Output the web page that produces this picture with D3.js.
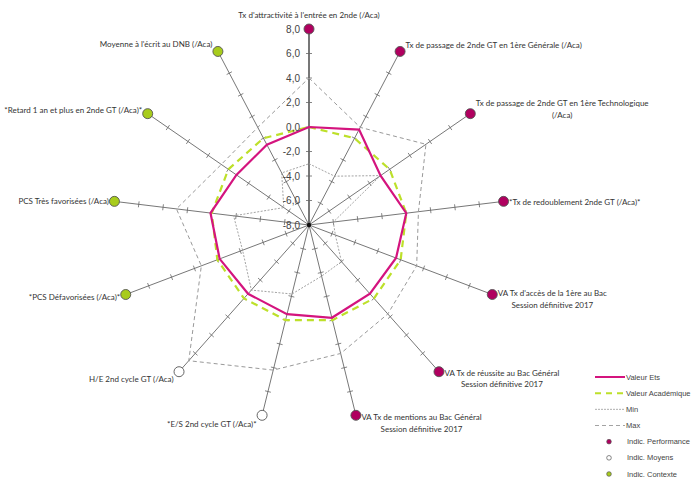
<!DOCTYPE html>
<html>
  <head>
    <meta charset='utf-8'>
    <title></title>
    <script src='https://d3js.org/d3.v7.min.js'></script>
    <style>
      body { margin: 0; background: #fff; }
      svg { display: block; }
      .lbl { font-family: Lato, 'Liberation Sans', sans-serif; font-size: 8px; fill: #333; }
      .tick-lbl { font-family: 'Liberation Sans', Arial, sans-serif; font-size: 10px; fill: #444; }
      .leg { font-family: 'Liberation Sans', Arial, sans-serif; font-size: 7.5px; fill: #444; }
    </style>
  </head>
  <body>
  <script type='text/javascript'>

    // axes, clockwise from the top
    var axisLabels = [
      ["Tx d'attractivité à l'entrée en 2nde (/Aca)"],
      ["Tx de passage de 2nde GT en 1ère Générale (/Aca)"],
      ["Tx de passage de 2nde GT en 1ère Technologique", "(/Aca)"],
      ["*Tx de redoublement 2nde GT (/Aca)*"],
      ["VA Tx d'accès de la 1ère au Bac", "Session définitive 2017"],
      ["VA Tx de réussite au Bac Général", "Session définitive 2017"],
      ["VA Tx de mentions au Bac Général", "Session définitive 2017"],
      ["*E/S 2nd cycle GT (/Aca)*"],
      ["H/E 2nd cycle GT (/Aca)"],
      ["*PCS Défavorisées (/Aca)*"],
      ["PCS Très favorisées (/Aca)"],
      ["*Retard 1 an et plus en 2nde GT (/Aca)*"],
      ["Moyenne à l'écrit au DNB (/Aca)"]
    ];
    var axisGroups = ['perf', 'perf', 'perf', 'perf', 'perf', 'perf', 'perf',
                      'moyens', 'moyens', 'contexte', 'contexte', 'contexte', 'contexte'];

    var valEts = [0.0, 0.8, -0.9, 0.0, -0.4, -0.5, -0.2, -0.5, -0.5, -0.2, 0.1, -0.8, -0.6];
    var valAca = [0, 0, 0, 0, 0, 0, 0, 0, 0, 0, 0, 0, 0];
    var valMin = [-3.0, -3.5, -0.9, -6.0, -5.7, -4.0, -3.7, -2.2, -0.9, -2.2, -1.8, -5.5, -3.2];
    var valMax = [4.0, 1.0, 3.6, 1.0, 1.4, 1.7, 2.8, 4.2, 6.8, 1.4, 2.9, 0.7, 1.0];

    var tickValues = [-8, -6, -4, -2, 0, 2, 4, 6, 8];

    var legendItems = ['Valeur Ets', 'Valeur Académique', 'Min', 'Max',
                       'Indic. Performance', 'Indic. Moyens', 'Indic. Contexte'];

    // layout
    var width = 697;
    var height = 481;
    var cx = 309, cy = 225;
    var labelDy = [0, -6, -10, 1, -1, 1, 2, 9, 7, 3, 0, -3, -7];

    var groupFill = { perf: '#b0005f', moyens: '#ffffff', contexte: '#a8cc1c' };

    var r = d3.scaleLinear().domain([-8, 8]).range([0, 196]);
    var n = axisLabels.length;
    var angle = function(i) { return i * 2 * Math.PI / n; };
    var px = function(i, v) { return Math.sin(angle(i)) * r(v); };
    var py = function(i, v) { return -Math.cos(angle(i)) * r(v); };

    var fmt = d3.formatLocale({decimal: ',', thousands: ' ', grouping: [3], currency: ['', '€'], minus: '-'}).format('.1f');

    var svg = d3.select('body')
              .append('svg')
              .attr('width', width)
              .attr('height', height);

    var g = svg.append('g')
              .attr('transform', 'translate(' + cx + ',' + cy + ')');

    // axis lines
    var axesG = g.selectAll('.ax')
      .data(d3.range(n))
      .enter().append('g')
      .attr('class', 'ax');

    axesG.append('line')
      .attr('x1', 0).attr('y1', 0)
      .attr('x2', function(i) { return px(i, 8); })
      .attr('y2', function(i) { return py(i, 8); })
      .attr('stroke', function(i) { return i === 0 ? '#555' : '#777'; })
      .attr('stroke-width', function(i) { return i === 0 ? 1.6 : 1; });

    // small ticks on each axis
    axesG.each(function(i) {
      var a = angle(i);
      var ux = Math.cos(a), uy = Math.sin(a);
      d3.select(this).selectAll('.tk')
        .data(tickValues.slice(1, -1))
        .enter().append('line')
        .attr('x1', function(v) { return px(i, v) - ux * 3; })
        .attr('y1', function(v) { return py(i, v) - uy * 3; })
        .attr('x2', function(v) { return px(i, v) + ux * 3; })
        .attr('y2', function(v) { return py(i, v) + uy * 3; })
        .attr('stroke', '#666')
        .attr('stroke-width', 0.8);
    });

    var radar = d3.line()
      .x(function(d) { return px(d[0], d[1]); })
      .y(function(d) { return py(d[0], d[1]); })
      .curve(d3.curveLinearClosed);

    var toPts = function(arr) { return arr.map(function(v, i) { return [i, v]; }); };

    g.append('path')
      .attr('d', radar(toPts(valMin)))
      .attr('fill', 'none')
      .attr('stroke', '#999')
      .attr('stroke-width', 0.9)
      .attr('stroke-dasharray', '2,1.5');

    g.append('path')
      .attr('d', radar(toPts(valMax)))
      .attr('fill', 'none')
      .attr('stroke', '#999')
      .attr('stroke-width', 1)
      .attr('stroke-dasharray', '4,3');

    g.append('path')
      .attr('d', radar(toPts(valAca)))
      .attr('fill', 'none')
      .attr('stroke', '#bde02a')
      .attr('stroke-width', 2.2)
      .attr('stroke-dasharray', '7,5');

    g.append('path')
      .attr('d', radar(toPts(valEts)))
      .attr('fill', 'none')
      .attr('stroke', '#d4147e')
      .attr('stroke-width', 2.2);

    // value labels along the top axis
    g.selectAll('.tick-lbl')
      .data(tickValues)
      .enter().append('text')
      .attr('class', 'tick-lbl')
      .attr('x', -9)
      .attr('y', function(v) { return -r(v); })
      .attr('dy', '0.36em')
      .attr('text-anchor', 'end')
      .text(function(v) { return fmt(v); });

    g.append('circle').attr('r', 2.2).attr('fill', '#111');

    // end markers
    g.selectAll('.mk')
      .data(d3.range(n))
      .enter().append('circle')
      .attr('cx', function(i) { return px(i, 8); })
      .attr('cy', function(i) { return py(i, 8); })
      .attr('r', 5)
      .attr('fill', function(i) { return groupFill[axisGroups[i]]; })
      .attr('stroke', '#555')
      .attr('stroke-width', 0.9);

    // axis labels
    d3.range(n).forEach(function(i) {
      var s = Math.sin(angle(i));
      var x = px(i, 8), y = py(i, 8) + labelDy[i];
      var lines = axisLabels[i];
      var t = g.append('text').attr('class', 'lbl');
      if (Math.abs(s) < 0.1) {
        t.attr('x', x).attr('y', y - 14).attr('dy', '0.35em').attr('text-anchor', 'middle').text(lines[0]);
        return;
      }
      var anchor = s > 0 ? 'start' : 'end';
      var x0 = s > 0 ? x + 5.5 : x - 5.5;
      t.attr('x', x0).attr('y', y).attr('dy', '0.35em').attr('text-anchor', anchor).text(lines[0]);
      if (lines.length > 1) {
        var w = t.node().getComputedTextLength();
        var mid = s > 0 ? x0 + w / 2 : x0 - w / 2;
        g.append('text').attr('class', 'lbl')
          .attr('x', mid).attr('y', y + 11.5).attr('dy', '0.35em')
          .attr('text-anchor', 'middle').text(lines[1]);
      }
    });

    // legend
    var leg = svg.append('g').attr('transform', 'translate(595,377)');
    var rowY = d3.scalePoint().domain(legendItems).range([0, 97]);

    leg.selectAll('.leg')
      .data(legendItems)
      .enter().append('text')
      .attr('class', 'leg')
      .attr('x', function(d, i) { return i < 4 ? 31 : 32; })
      .attr('y', function(d) { return rowY(d); })
      .attr('dy', '0.35em')
      .text(function(d) { return d; });

    var legLine = function(name, color, w, dash) {
      leg.append('line')
        .attr('x1', 0).attr('x2', 30)
        .attr('y1', rowY(name)).attr('y2', rowY(name))
        .attr('stroke', color).attr('stroke-width', w)
        .attr('stroke-dasharray', dash);
    };
    legLine(legendItems[0], '#d4147e', 2, null);
    legLine(legendItems[1], '#bde02a', 2, '6,5');
    legLine(legendItems[2], '#999', 0.8, '2,1');
    legLine(legendItems[3], '#999', 0.9, '4,3');

    ['perf', 'moyens', 'contexte'].forEach(function(k, j) {
      leg.append('circle')
        .attr('cx', 14)
        .attr('cy', rowY(legendItems[4 + j]))
        .attr('r', 2.3)
        .attr('fill', groupFill[k])
        .attr('stroke', '#555')
        .attr('stroke-width', 0.7);
    });

  </script>
  </body>
</html>
